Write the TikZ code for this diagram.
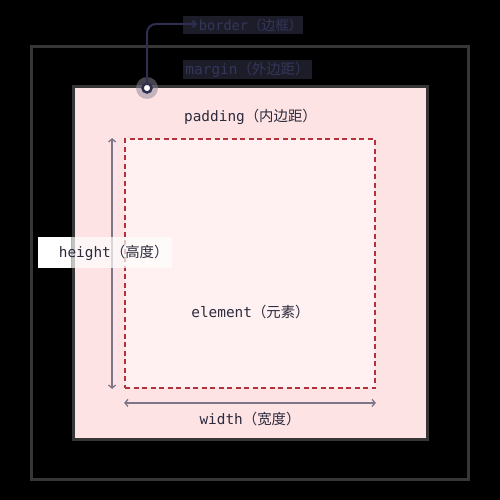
\documentclass[tikz,border=0pt]{standalone}
\usepackage{fontspec}
\setmonofont{DejaVu Sans Mono}
\newfontfamily\cjk{Noto Sans CJK SC}
\usetikzlibrary{arrows.meta,positioning}

\definecolor{ink}{HTML}{2B2B3D}
\definecolor{padpink}{HTML}{FDE3E3}
\definecolor{elempink}{HTML}{FFF1F1}
\definecolor{dashred}{HTML}{B3313A}
\definecolor{dimgray}{HTML}{7D7689}
\definecolor{navy}{HTML}{2E2E50}
\definecolor{framegray}{HTML}{363636}
\definecolor{tagbg}{HTML}{1D1D2A}
\definecolor{tagink}{HTML}{34365A}
\definecolor{halogray}{HTML}{8A8598}

\begin{document}
\begin{tikzpicture}[x=1pt, y=-1pt,
    frame/.style={draw=framegray, line width=3pt, inner sep=0pt},
    padbox/.style={draw=framegray, line width=3pt, fill=padpink, inner sep=0pt},
    elembox/.style={draw=dashred, line width=1.8pt, dash pattern=on 5pt off 3.5pt, fill=elempink, inner sep=0pt},
    txt/.style={font=\ttfamily\fontsize{14.4}{16}\selectfont, text=ink},
    tag/.style={txt, fill=tagbg, text=tagink, inner sep=0pt},
    halo/.style={circle, fill=halogray, fill opacity=0.5, minimum size=22pt, inner sep=0pt},
    dot/.style={circle, draw=navy, line width=2.5pt, fill=white, minimum size=9pt, inner sep=0pt},
    dim/.style={{Straight Barb[length=3pt,width=7pt]}-{Straight Barb[length=3pt,width=7pt]}, draw=dimgray, line width=1.3pt},
    lead/.style={-{Straight Barb[length=3pt,width=7pt]}, draw=navy, line width=2pt, rounded corners=9pt},
]

\fill[black] (0,0) rectangle (500,500);
\useasboundingbox (0,0) rectangle (500,500);

% margin and boxes
\node[frame, minimum width=437pt, minimum height=432pt] (marginbox) at (249.5,263) {};
\node[padbox, minimum width=354pt, minimum height=352pt] (padbox) at (250,263) {};
\node[elembox, minimum width=250pt, minimum height=249pt] (elem) at (250,263.5) {};

% texts
\node[txt] (padlbl) at (250.5,117) {padding{\cjk （内边距）}};
\node[txt] (elemlbl) at (250.5,312) {element{\cjk （元素）}};
\node[txt] (widthlbl) at (250,419) {width{\cjk （宽度）}};

% size arrows
\draw[dim] ([xshift=-12pt]elem.north west) -- ([xshift=-12pt]elem.south west);
\draw[dim] ([yshift=-14pt]elem.south west) -- ([yshift=-14pt]elem.south east);

\fill[white] (38,237) rectangle (71,268);
\node[txt, fill=white, fill opacity=0.7, text opacity=1, text width=127pt, align=right,
      inner xsep=3.5pt, inner ysep=0pt, minimum height=31pt] (heightlbl) at (105,252.5)
      {height{\cjk （高度）}};

% border marker
\node[tag, font=\ttfamily\fontsize{13.6}{15}\selectfont, text width=119pt, align=right,
      inner xsep=0.5pt, minimum height=18pt] (borderlbl) at (243,25) {border{\cjk （边框）}};
\node[tag, minimum width=129pt, minimum height=19pt] (marginlbl) at (247.5,69.5) {margin{\cjk （外边距）}};
\node[halo] (borderhalo) at (147,88) {};
\node[dot] (borderdot) at (147,88) {};
\coordinate (leadend) at (197,24);
\draw[lead] (borderdot.north) |- (leadend);

\end{tikzpicture}
\end{document}
